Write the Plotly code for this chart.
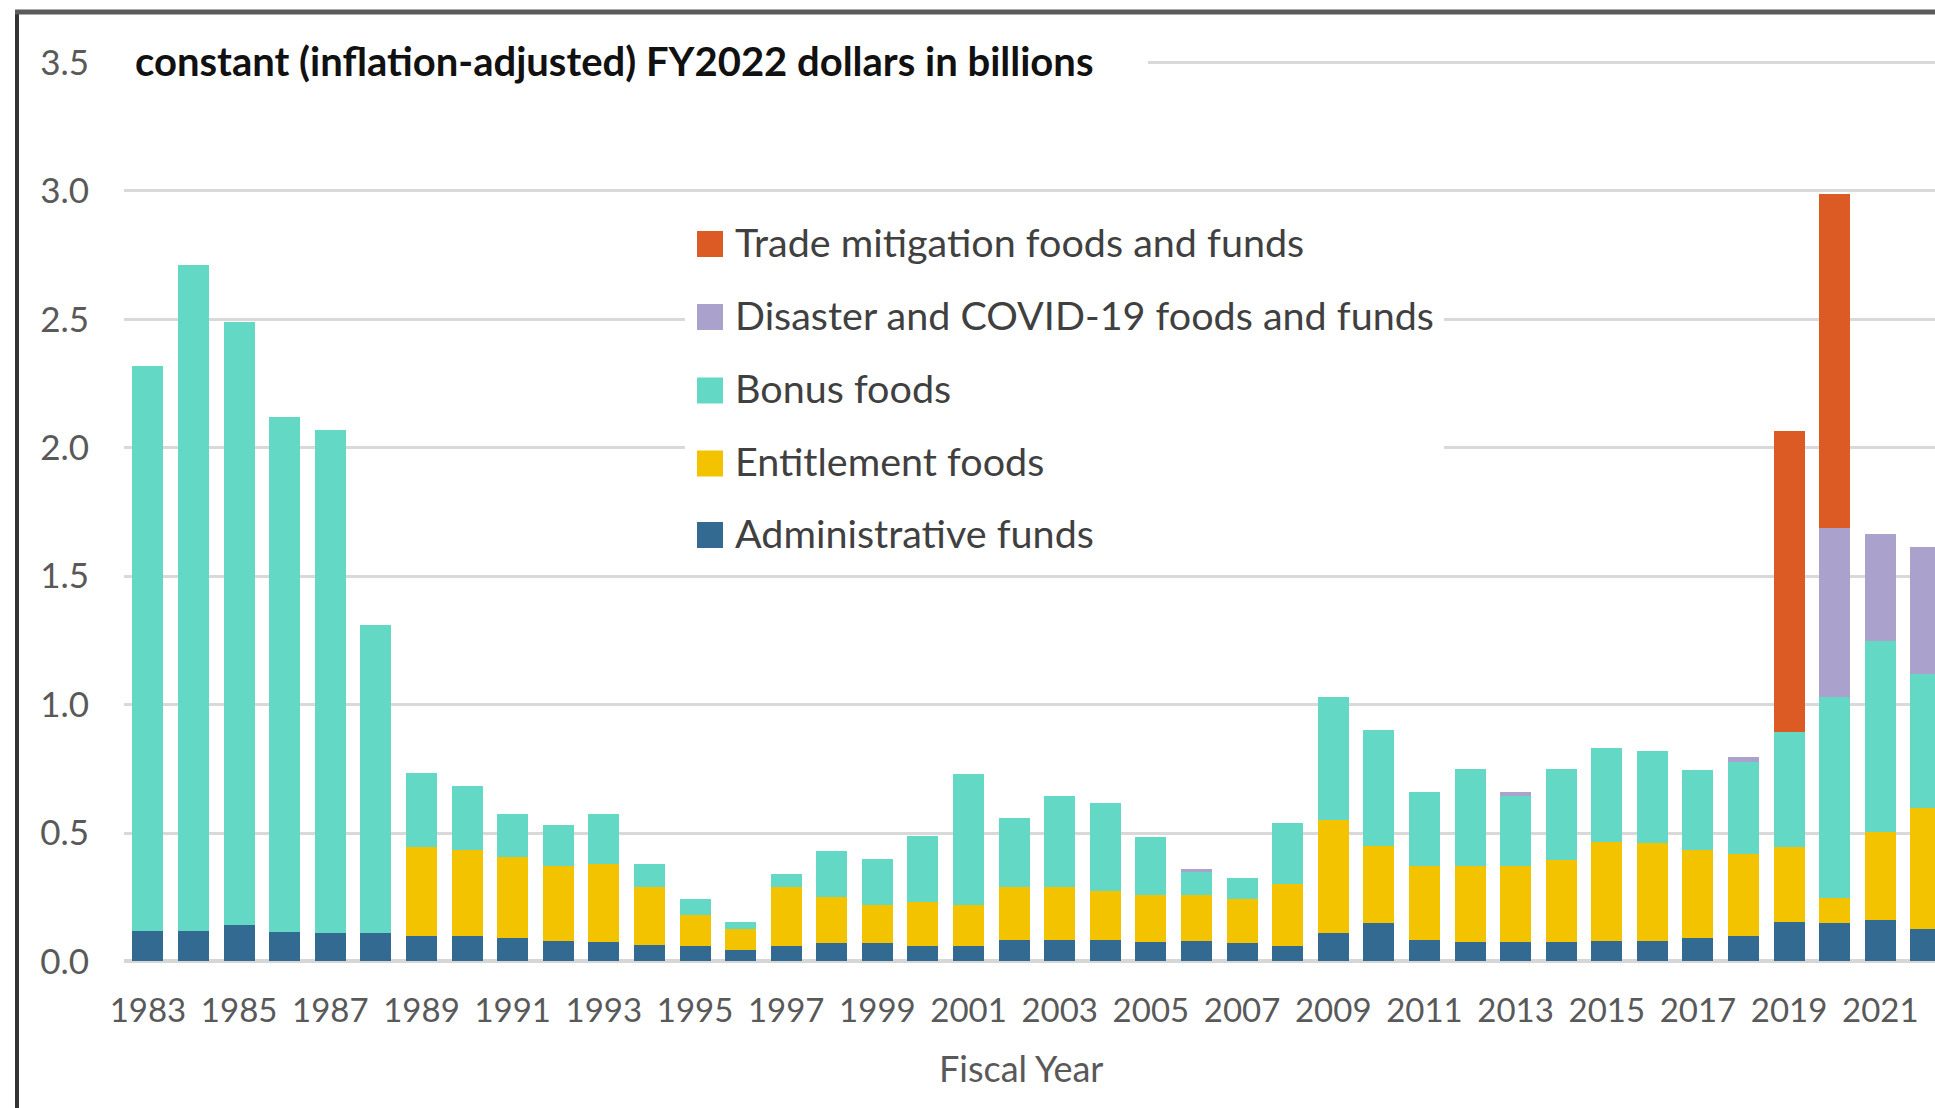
import plotly.graph_objects as go

years = list(range(1983, 2023))
admin = [0.12, 0.12, 0.14, 0.115, 0.11, 0.11, 0.10, 0.10, 0.09, 0.08,
         0.075, 0.065, 0.06, 0.045, 0.06, 0.07, 0.07, 0.06, 0.06, 0.085,
         0.085, 0.085, 0.075, 0.08, 0.07, 0.06, 0.11, 0.15, 0.085, 0.075,
         0.075, 0.075, 0.08, 0.08, 0.09, 0.10, 0.155, 0.148, 0.163, 0.128]
entitlement = [0, 0, 0, 0, 0, 0, 0.345, 0.335, 0.315, 0.29,
               0.305, 0.225, 0.12, 0.08, 0.23, 0.18, 0.15, 0.17, 0.16, 0.205,
               0.205, 0.19, 0.185, 0.18, 0.175, 0.24, 0.44, 0.30, 0.285, 0.295,
               0.295, 0.32, 0.385, 0.38, 0.345, 0.32, 0.29, 0.10, 0.34, 0.47]
bonus = [2.20, 2.59, 2.35, 2.005, 1.96, 1.20, 0.29, 0.25, 0.17, 0.16,
         0.195, 0.09, 0.065, 0.03, 0.05, 0.18, 0.18, 0.26, 0.51, 0.27,
         0.355, 0.34, 0.225, 0.09, 0.08, 0.24, 0.48, 0.45, 0.29, 0.38,
         0.275, 0.355, 0.365, 0.36, 0.31, 0.355, 0.45, 0.78, 0.745, 0.52]
disaster = [0, 0, 0, 0, 0, 0, 0, 0, 0, 0,
            0, 0, 0, 0, 0, 0, 0, 0, 0, 0,
            0, 0, 0, 0.01, 0, 0, 0, 0, 0, 0,
            0.015, 0, 0, 0, 0, 0.02, 0, 0.66, 0.415, 0.495]
trade = [0] * 36 + [1.17, 1.30, 0, 0]

series_names = ["Administrative funds", "Entitlement foods", "Bonus foods",
                "Disaster and COVID-19 foods and funds", "Trade mitigation foods and funds"]
series_values = [admin, entitlement, bonus, disaster, trade]
series_colors = ["#336a92", "#f4c300", "#62d8c5", "#aaa2cc", "#dc5a24"]

y_ticks = [0, 0.5, 1.0, 1.5, 2.0, 2.5, 3.0, 3.5]
x_ticks = list(range(1983, 2022, 2))

W, H = 1935, 1108
ML, MR, MT, MB = 124, 0, 60, 144
PW = W - ML - MR
PH = H - MT - MB


def px(x):
    return (x - ML) / PW


def py(y):
    return (H - MB - y) / PH


FONT = "Lato"

fig = go.Figure()
for name, vals, col in zip(series_names, series_values, series_colors):
    fig.add_trace(go.Bar(x=years, y=vals, name=name, marker_color=col,
                         marker_line_width=0, width=0.68, showlegend=False))

shapes = []
# title white box
shapes.append(dict(type="rect", xref="paper", yref="paper", x0=px(122), x1=px(1148),
                   y0=py(88), y1=py(38), fillcolor="white", line_width=0, layer="above"))
# legend white box
shapes.append(dict(type="rect", xref="paper", yref="paper", x0=px(685), x1=px(1444),
                   y0=py(566), y1=py(208), fillcolor="white", line_width=0, layer="above"))
legend_centers = [243, 316, 389.5, 462.5, 534]
legend_order = [4, 3, 2, 1, 0]
annotations = []
for cy, idx in zip(legend_centers, legend_order):
    shapes.append(dict(type="rect", xref="paper", yref="paper", x0=px(697), x1=px(723),
                       y0=py(cy + 14), y1=py(cy - 12), fillcolor=series_colors[idx],
                       line_width=0, layer="above"))
    annotations.append(dict(xref="paper", yref="paper", x=px(733), y=py(cy - 2),
                            xanchor="left", yanchor="middle", showarrow=False,
                            text=series_names[idx],
                            font=dict(family=FONT, size=39.5, color="#404040")))
# borders
shapes.append(dict(type="line", xref="paper", yref="paper", x0=px(17), x1=px(17),
                   y0=py(10), y1=py(H + 5), line=dict(color="#333333", width=4)))
shapes.append(dict(type="line", xref="paper", yref="paper", x0=px(15), x1=px(W + 5),
                   y0=py(12), y1=py(12), line=dict(color="#5a5a5a", width=5)))

annotations.append(dict(xref="paper", yref="paper", x=px(133), y=py(61),
                        xanchor="left", yanchor="middle", showarrow=False,
                        text="<b>constant (inflation-adjusted) FY2022 dollars in billions</b>",
                        font=dict(family=FONT, size=40, color="#111111")))
annotations.append(dict(xref="paper", yref="paper", x=px(1021), y=py(1068),
                        xanchor="center", yanchor="middle", showarrow=False,
                        text="Fiscal Year",
                        font=dict(family=FONT, size=36, color="#595959")))

fig.update_layout(
    width=W, height=H,
    margin=dict(l=ML, r=MR, t=MT, b=MB, pad=0),
    paper_bgcolor="white", plot_bgcolor="white",
    barmode="stack",
    shapes=shapes, annotations=annotations,
    xaxis=dict(range=[1982.474, 2022.2], tickmode="array", tickvals=x_ticks,
               ticktext=[str(v) for v in x_ticks], showgrid=False, zeroline=False,
               ticks="outside", ticklen=17, tickcolor="rgba(0,0,0,0)",
               tickfont=dict(family=FONT, size=33, color="#595959"), showline=False),
    yaxis=dict(range=[-0.01, 3.51], tickmode="array", tickvals=y_ticks,
               ticktext=["%.1f" % v for v in y_ticks], showgrid=True,
               gridcolor="#d9d9d9", gridwidth=3, zeroline=True,
               zerolinecolor="#d6d6d6", zerolinewidth=4,
               ticks="outside", ticklen=27, tickcolor="rgba(0,0,0,0)",
               tickfont=dict(family=FONT, size=35, color="#595959"), showline=False),
)

fig.write_html("out.html", config={"displayModeBar": False},
               post_script="document.body.style.margin='0';document.body.style.overflow='hidden';")
